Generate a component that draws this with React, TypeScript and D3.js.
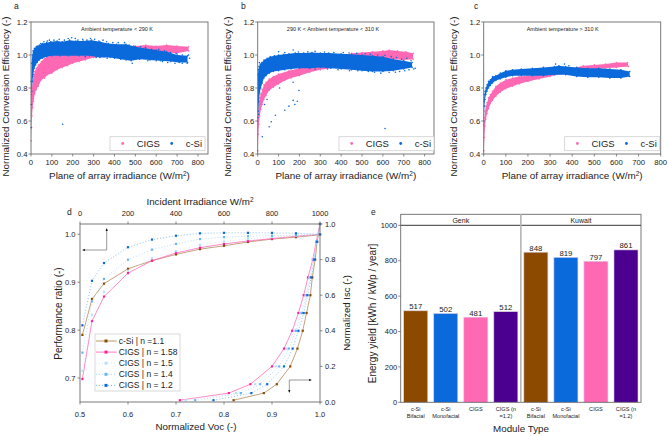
import React from "react";
import * as d3 from "d3";

const FONT = "'Liberation Sans', Arial, sans-serif";
const PINK = "#FF69B4";
const BLUE = "#0A6ADB";
const BROWN = "#8B4A00";
const INDIGO = "#4B0090";
const FRAME = "#6b6b6b";

// ---------- panels a-c: edges of the point clouds, as [irradiance, efficiency]
const aCigsLo = [[1,.48],[3,.56],[5,.63],[8,.68],[12,.72],[18,.765],[25,.79],[35,.81],[50,.85],[65,.86],[80,.88],[100,.89],[125,.91],[150,.925],[175,.935],[200,.95],[230,.96],[260,.97],[300,.985],[350,.99],[400,1.0],[450,1.0],[500,1.005],[550,1.01],[600,1.01],[650,1.012],[700,1.01],[755,1.025]];
const aCigsHi = [[1,.7],[3,.76],[5,.8],[8,.84],[12,.87],[18,.9],[25,.92],[35,.94],[50,.96],[65,.98],[80,.99],[100,1.0],[125,1.01],[150,1.01],[200,1.02],[250,1.03],[300,1.03],[400,1.04],[450,1.045],[500,1.055],[550,1.06],[600,1.055],[650,1.06],[700,1.055],[755,1.05]];
const aSiLo = [[1,.56],[2,.7],[4,.78],[7,.84],[11,.88],[16,.92],[22,.94],[30,.955],[40,.97],[55,.98],[75,.99],[100,.995],[140,.995],[180,.995],[230,.995],[280,.995],[330,.985],[380,.985],[430,.975],[480,.965],[520,.975],[570,.97],[620,.965],[670,.96],[710,.955],[750,.955]];
const aSiHi = [[1,.84],[3,.95],[6,1.0],[10,1.025],[16,1.04],[25,1.05],[40,1.06],[55,1.07],[75,1.075],[95,1.08],[125,1.085],[150,1.08],[185,1.09],[215,1.085],[250,1.085],[290,1.09],[330,1.08],[370,1.07],[410,1.065],[455,1.065],[500,1.05],[550,1.04],[600,1.03],[650,1.02],[700,1.0],[750,.995]];
const aSiFringe = [[30,1.055],[47,1.07],[62,1.08],[78,1.085],[88,1.09],[110,1.09],[135,1.095],[160,1.09],[178,1.1],[195,1.105],[212,1.1],[225,1.09],[248,1.095],[268,1.09],[285,1.1],[305,1.095],[325,1.085],[345,1.09],[362,1.08],[392,1.075],[418,1.075],[448,1.075],[470,1.06],[492,1.055],[525,1.05],[548,1.045],[578,1.035],[612,1.035],[640,1.025],[668,1.015],[695,1.01],[725,1.0],[755,1.0],[760,.98],[748,.95],[725,.95],[690,.95],[655,.955],[630,.96],[600,.965],[560,.965],[485,.95],[455,.97],[400,.98],[365,.98],[312,.985],[260,.99]];
const aOutliers = [[152,.58]];

const bCigsLo = [[1,.42],[3,.52],[6,.58],[10,.63],[15,.67],[22,.7],[30,.73],[40,.755],[55,.785],[75,.805],[100,.825],[130,.845],[160,.86],[200,.875],[250,.895],[300,.91],[350,.92],[400,.93],[450,.945],[500,.95],[550,.965],[600,.97],[650,.975],[700,.97],[745,.975]];
const bCigsHi = [[1,.6],[3,.66],[6,.71],[10,.74],[15,.76],[22,.79],[30,.82],[40,.835],[55,.855],[75,.87],[100,.885],[150,.905],[200,.92],[250,.93],[300,.94],[350,.955],[400,.985],[450,1.01],[500,1.015],[550,1.02],[600,1.025],[630,1.03],[670,1.025],[710,1.02],[745,1.01]];
const bSiLo = [[1,.62],[3,.66],[6,.72],[10,.77],[15,.8],[22,.83],[30,.86],[40,.875],[55,.89],[75,.9],[100,.905],[130,.91],[160,.915],[200,.92],[250,.92],[300,.925],[350,.92],[400,.915],[450,.91],[500,.905],[550,.9],[600,.9],[650,.905],[700,.915],[740,.925]];
const bSiHi = [[1,.88],[3,.91],[6,.93],[12,.945],[20,.955],[30,.97],[45,.98],[60,.99],[80,.995],[100,1.0],[125,1.005],[150,1.008],[180,1.012],[220,1.012],[260,1.015],[300,1.012],[340,1.012],[400,1.008],[450,1.005],[500,1.0],[550,.995],[600,.99],[650,.975],[700,.965],[740,.955]];
const bSiFringe = [[8,.955],[100,1.02],[130,1.015],[170,1.03],[195,1.018],[240,1.02],[275,1.022],[320,1.018],[365,1.015],[410,1.015],[438,1.012],[475,1.01],[515,1.008],[540,1.005],[575,1.0],[610,.998],[640,.99],[665,.985],[690,.975],[715,.98],[735,.965],[755,.92],[748,.915],[725,.91],[705,.905],[680,.9],[660,.895],[630,.895],[590,.89],[560,.895],[530,.9],[480,.905],[440,.905],[385,.91],[335,.915],[275,.915]];
const bOutliers = [[5,.64],[22,.505],[33,.7],[45,.73],[55,.565],[65,.595],[85,.635],[105,.8],[130,.665],[150,.69],[170,.725],[178,.7],[190,.72],[198,.785],[170,.835],[610,.555]];

const cCigsLo = [[1,.42],[3,.5],[6,.57],[10,.61],[15,.645],[22,.675],[30,.705],[40,.725],[55,.75],[75,.775],[100,.795],[130,.81],[160,.825],[200,.84],[250,.855],[300,.87],[350,.885],[400,.89],[450,.905],[500,.91],[550,.92],[600,.925],[655,.93]];
const cCigsHi = [[1,.58],[3,.62],[6,.66],[10,.69],[15,.71],[22,.74],[30,.76],[40,.78],[55,.81],[75,.83],[100,.85],[130,.86],[160,.87],[200,.875],[250,.885],[300,.895],[350,.91],[400,.92],[450,.935],[500,.94],[550,.945],[600,.955],[650,.955]];
const cSiLo = [[1,.6],[3,.69],[6,.73],[10,.76],[15,.78],[22,.8],[30,.815],[40,.83],[55,.845],[75,.855],[100,.865],[130,.875],[170,.875],[220,.875],[270,.875],[320,.88],[370,.88],[420,.87],[470,.865],[520,.865],[570,.86],[620,.86],[660,.87]];
const cSiHi = [[1,.72],[3,.76],[6,.78],[10,.8],[15,.82],[22,.84],[30,.85],[40,.87],[55,.875],[75,.89],[100,.905],[130,.91],[170,.915],[220,.92],[270,.925],[320,.93],[340,.935],[370,.93],[420,.925],[470,.92],[520,.92],[570,.915],[620,.91],[660,.9]];
const cSiFringe = [[325,.945],[365,.945],[385,.935]];
const cOutliers: number[][] = [];

const panelLetters = ["a", "b", "c"];
const panelNotes = ["Ambient temperature < 290 K", "290 K < Ambient temperature < 310 K", "Ambient temperature > 310 K"];
const xTicksTop = [0, 100, 200, 300, 400, 500, 600, 700, 800];
const yTicksTop = [0.4, 0.6, 0.8, 1.0, 1.2];

// ---------- panel d
const irr = [10, 50, 100, 200, 300, 400, 500, 600, 700, 800, 900, 1000];
const prSi11 = [.79, .865, .897, .928, .945, .958, .969, .976, .984, .99, .994, .999];
const prCigs158 = [.698, .819, .87, .919, .945, .961, .972, .98, .986, .991, .996, 1.0];
const prCigs15 = [.715, .832, .88, .924, .95, .965, .978, .985, .99, .994, .997, 1.0];
const prCigs14 = [.753, .86, .907, .947, .968, .98, .99, .994, .996, .997, .998, 1.0];
const prCigs12 = [.81, .903, .94, .973, .989, .997, 1.002, 1.003, 1.003, 1.003, 1.002, 1.0];
const isc = [.01, .05, .1, .2, .3, .4, .5, .6, .7, .8, .9, 1.0];
const vocSi11 = [.82, .883, .91, .938, .953, .964, .972, .98, .984, .99, .994, 1.0];
const vocCigs158 = [.708, .81, .855, .9, .925, .942, .955, .966, .975, .985, .992, 1.0];
const vocCigs15 = [.72, .825, .865, .908, .93, .947, .96, .97, .978, .986, .993, 1.0];
const vocCigs14 = [.74, .835, .875, .915, .935, .95, .962, .972, .98, .987, .993, 1.0];
const vocCigs12 = [.778, .857, .89, .925, .943, .955, .966, .974, .982, .988, .994, 1.0];
const dNames = ["c-Si | n =1.1", "CIGS | n = 1.58", "CIGS | n = 1.5", "CIGS | n = 1.4", "CIGS | n = 1.2"];
const dColors = [BROWN, "#FF1F9A", "#BBDDFB", "#66B4F5", "#0A6ADB"];
const dLineColors = ["#B58A5E", "#FF6DB8", "#D6EAFB", "#A9D3F7", "#6FAEEB"];
const dPr = [prSi11, prCigs158, prCigs15, prCigs14, prCigs12];
const dVoc = [vocSi11, vocCigs158, vocCigs15, vocCigs14, vocCigs12];

// ---------- panel e
const sites = ["Genk", "Kuwait"];
const moduleLabels = [["c-Si", "Bifacial"], ["c-Si", "Monofacial"], ["CIGS"], ["CIGS (n", "=1.2)"]];
const genkYield = [517, 502, 481, 512];
const kuwaitYield = [848, 819, 797, 861];
const barColors = [BROWN, BLUE, PINK, INDIGO];

function Cloud({ lo, hi, color, x, y, fringe }: any) {
  const xy = (p: number[]) => [x(p[0]), y(p[1])] as [number, number];
  const poly = [...lo.map(xy), ...[...hi].reverse().map(xy)];
  return (
    <g>
      <path d={d3.line()(poly) + "Z"} fill={color} />
      {[...lo, ...hi, ...(fringe || [])].map((p: number[], i: number) => (
        <circle key={i} cx={x(p[0])} cy={y(p[1])} r={0.8} fill={color} />
      ))}
    </g>
  );
}

function ScatterPanel({ left, right, i, sets, maxX, letterX, noteX, labelOff, legX }: any) {
  const x = d3.scaleLinear().domain([0, maxX]).range([left, right]);
  const y = d3.scaleLinear().domain([0.4, 1.2]).range([154, 22]);
  return (
    <g fontFamily={FONT} fill="#222">
      <text x={letterX} y={9} fontSize={8.5}>{panelLetters[i]}</text>
      <Cloud lo={sets.cigsLo} hi={sets.cigsHi} color={PINK} x={x} y={y} />
      <Cloud lo={sets.siLo} hi={sets.siHi} fringe={sets.fringe} color={BLUE} x={x} y={y} />
      {sets.out.map((p: number[], k: number) => (
        <circle key={k} cx={x(p[0])} cy={y(p[1])} r={0.8} fill={BLUE} />
      ))}
      <rect x={left} y={22} width={right - left} height={132} fill="none" stroke={FRAME} strokeWidth={0.9} />
      {xTicksTop.map((t) => (
        <g key={t}>
          <line x1={x(t)} x2={x(t)} y1={154} y2={156.5} stroke={FRAME} strokeWidth={0.8} />
          <text x={x(t)} y={165} fontSize={7.7} textAnchor="middle">{t}</text>
        </g>
      ))}
      {yTicksTop.map((t) => (
        <g key={t}>
          <line x1={left - 2.5} x2={left} y1={y(t)} y2={y(t)} stroke={FRAME} strokeWidth={0.8} />
          <text x={left - 3.5} y={y(t) + 2.8} fontSize={7.7} textAnchor="end">{t.toFixed(1)}</text>
        </g>
      ))}
      <text x={noteX} y={31} fontSize={5.5} textAnchor="middle">{panelNotes[i]}</text>
      <text x={(left + right) / 2} y={179} fontSize={9.9} textAnchor="middle">Plane of array irradiance (W/m<tspan dy={-3} fontSize={6.5}>2</tspan><tspan dy={3}>)</tspan></text>
      <text transform={`translate(${left - labelOff},96.5) rotate(-90)`} fontSize={9.9} textAnchor="middle">Normalized Conversion Efficiency (-)</text>
      <rect x={legX} y={136.7} width={95} height={14} fill="#fff" stroke="#cfcfcf" strokeWidth={0.8} />
      <circle cx={legX + 12.7} cy={143.5} r={1.4} fill={PINK} />
      <text x={legX + 26.7} y={147} fontSize={9.5}>CIGS</text>
      <circle cx={legX + 61.7} cy={143.5} r={1.4} fill={BLUE} />
      <text x={legX + 75.7} y={147} fontSize={9.5}>c-Si</text>
    </g>
  );
}

function PanelD() {
  const L = 80, R = 320, T = 224, B = 402;
  const xBottom = d3.scaleLinear().domain([0.5, 1]).range([L, R]);
  const xTop = d3.scaleLinear().domain([0, 1000]).range([L, R]);
  const yLeft = d3.scaleLinear().domain([0.65, 1.0215]).range([B, T]);
  const yRight = d3.scaleLinear().domain([0, 1]).range([B, T]);
  const line = d3.line();
  const dash = (k: number) => (k < 2 ? undefined : "1 2");
  return (
    <g fontFamily={FONT} fill="#222">
      <text x={67} y={215} fontSize={8.5}>d</text>
      {dPr.map((vals, k) => (
        <g key={"pr" + k}>
          <path d={line(irr.map((v, j) => [xTop(v), yLeft(vals[j])] as [number, number])) as string} fill="none" stroke={dLineColors[k]} strokeWidth={0.8} strokeDasharray={dash(k)} />
          {irr.map((v, j) => <rect key={j} x={xTop(v) - 1.1} y={yLeft(vals[j]) - 1.1} width={2.2} height={2.2} fill={dColors[k]} />)}
        </g>
      ))}
      {dVoc.map((vals, k) => (
        <g key={"voc" + k}>
          <path d={line(isc.map((v, j) => [xBottom(vals[j]), yRight(v)] as [number, number])) as string} fill="none" stroke={dLineColors[k]} strokeWidth={0.8} strokeDasharray={dash(k)} />
          {isc.map((v, j) => <rect key={j} x={xBottom(vals[j]) - 1.1} y={yRight(v) - 1.1} width={2.2} height={2.2} fill={dColors[k]} />)}
        </g>
      ))}
      <rect x={L} y={T} width={R - L} height={B - T} fill="none" stroke={FRAME} strokeWidth={0.9} />
      {[0.5, 0.6, 0.7, 0.8, 0.9, 1.0].map((t) => (
        <g key={t}>
          <line x1={xBottom(t)} x2={xBottom(t)} y1={B} y2={B + 2.5} stroke={FRAME} strokeWidth={0.8} />
          <text x={xBottom(t)} y={B + 14.5} fontSize={7.5} textAnchor="middle">{t.toFixed(1)}</text>
        </g>
      ))}
      {[0, 200, 400, 600, 800, 1000].map((t) => (
        <g key={t}>
          <line x1={xTop(t)} x2={xTop(t)} y1={T} y2={T - 2.5} stroke={FRAME} strokeWidth={0.8} />
          <text x={xTop(t)} y={T - 8.3} fontSize={7.5} textAnchor="middle">{t}</text>
        </g>
      ))}
      {[0.7, 0.8, 0.9, 1.0].map((t) => (
        <g key={t}>
          <line x1={L - 2.5} x2={L} y1={yLeft(t)} y2={yLeft(t)} stroke={FRAME} strokeWidth={0.8} />
          <text x={L - 4.5} y={yLeft(t) + 2.6} fontSize={7.6} textAnchor="end">{t.toFixed(1)}</text>
        </g>
      ))}
      {[0, 0.2, 0.4, 0.6, 0.8, 1.0].map((t) => (
        <g key={t}>
          <line x1={R} x2={R + 2.5} y1={yRight(t)} y2={yRight(t)} stroke={FRAME} strokeWidth={0.8} />
          <text x={R + 5} y={yRight(t) + 2.6} fontSize={7.5}>{t.toFixed(1)}</text>
        </g>
      ))}
      <text x={200} y={205} fontSize={9.8} textAnchor="middle">Incident Irradiance W/m<tspan dy={-3} fontSize={6.5}>2</tspan></text>
      <text x={196} y={430} fontSize={9.8} textAnchor="middle">Normalized Voc (-)</text>
      <text transform="translate(61.5,313.5) rotate(-90)" fontSize={10} textAnchor="middle">Performance ratio (-)</text>
      <text transform="translate(350,313) rotate(-90)" fontSize={9.6} textAnchor="middle">Normalized Isc (-)</text>
      <path d="M106.7 250 V229 M106.7 250 H83" fill="none" stroke="#555" strokeWidth={0.6} />
      <path d="M106.7 228 l-1.1 3 h2.2Z M82 250 l3 -1.1 v2.2Z" fill="#111" />
      <path d="M289.3 392 V380 H311" fill="none" stroke="#555" strokeWidth={0.6} />
      <path d="M289.3 393 l-1.1 -3 h2.2Z M312 380 l-3 -1.1 v2.2Z" fill="#111" />
      <rect x={95} y={334} width={85} height={57} fill="#fff" fillOpacity={0.9} stroke="#cfcfcf" strokeWidth={0.8} />
      {dNames.map((n, k) => {
        const ly = 341 + k * 11.1;
        return (
          <g key={n}>
            <line x1={96} x2={116.7} y1={ly} y2={ly} stroke={dLineColors[k]} strokeWidth={0.9} strokeDasharray={dash(k)} />
            <rect x={104.5} y={ly - 1.5} width={3} height={3} fill={dColors[k]} />
            <text x={118.7} y={ly + 3} fontSize={8.5}>{n}</text>
          </g>
        );
      })}
    </g>
  );
}

function PanelE() {
  const L = 400.7, R = 641, T = 214.3, Y1000 = 225.3, B = 402.3;
  const all = [...genkYield, ...kuwaitYield];
  const x = d3.scaleBand<number>().domain(d3.range(8)).range([L, R]).paddingInner(0.2).paddingOuter(0.1);
  const y = d3.scaleLinear().domain([0, 1000]).range([B, Y1000]);
  const mid = (L + R) / 2;
  return (
    <g fontFamily={FONT} fill="#222">
      <text x={371} y={215} fontSize={8.5}>e</text>
      {all.map((v, i) => (
        <g key={i}>
          <rect x={x(i)} y={y(v)} width={x.bandwidth()} height={B - y(v)} fill={barColors[i % 4]} stroke="#d9d2e6" strokeWidth={0.6} />
          <text x={(x(i) as number) + x.bandwidth() / 2} y={y(v) - 1.6} fontSize={7.8} textAnchor="middle">{v}</text>
          {moduleLabels[i % 4].map((s, j) => (
            <text key={j} x={(x(i) as number) + x.bandwidth() / 2} y={411 + j * 6.7} fontSize={5.6} textAnchor="middle">{s}</text>
          ))}
        </g>
      ))}
      <rect x={L} y={T} width={R - L} height={B - T} fill="none" stroke={FRAME} strokeWidth={0.9} />
      <line x1={L} x2={R} y1={Y1000} y2={Y1000} stroke="#222" strokeWidth={0.9} />
      <line x1={mid} x2={mid} y1={T} y2={B} stroke="#b5b5b5" strokeWidth={1.6} />
      {sites.map((s, i) => (
        <text key={s} x={i === 0 ? (L + mid) / 2 : (mid + R) / 2} y={222.5} fontSize={7} textAnchor="middle">{s}</text>
      ))}
      {[0, 200, 400, 600, 800, 1000].map((t) => (
        <g key={t}>
          <line x1={L - 2.5} x2={L} y1={y(t)} y2={y(t)} stroke={FRAME} strokeWidth={0.8} />
          <text x={L - 3.5} y={y(t) + 2.6} fontSize={7.4} textAnchor="end">{t}</text>
        </g>
      ))}
      <text x={521} y={432} fontSize={9.8} textAnchor="middle">Module Type</text>
      <text transform="translate(375.5,313.5) rotate(-90)" fontSize={10} textAnchor="middle">Energy yield [kWh / kWp / year]</text>
    </g>
  );
}

export default function App() {
  return (
    <svg width={668} height={436} style={{ position: "absolute", left: 0, top: 0, background: "#fff" }}>
      <ScatterPanel i={0} left={31} right={208} maxX={848} letterX={14} noteX={117} labelOff={22} legX={110} sets={{ cigsLo: aCigsLo, cigsHi: aCigsHi, siLo: aSiLo, siHi: aSiHi, fringe: aSiFringe, out: aOutliers }} />
      <ScatterPanel i={1} left={257.7} right={434} maxX={845} letterX={241} noteX={333} labelOff={27} legX={339} sets={{ cigsLo: bCigsLo, cigsHi: bCigsHi, siLo: bSiLo, siHi: bSiHi, fringe: bSiFringe, out: bOutliers }} />
      <ScatterPanel i={2} left={483.7} right={660.7} maxX={800} letterX={474} noteX={562.7} labelOff={27} legX={564.7} sets={{ cigsLo: cCigsLo, cigsHi: cCigsHi, siLo: cSiLo, siHi: cSiHi, fringe: cSiFringe, out: cOutliers }} />
      <PanelD />
      <PanelE />
    </svg>
  );
}
